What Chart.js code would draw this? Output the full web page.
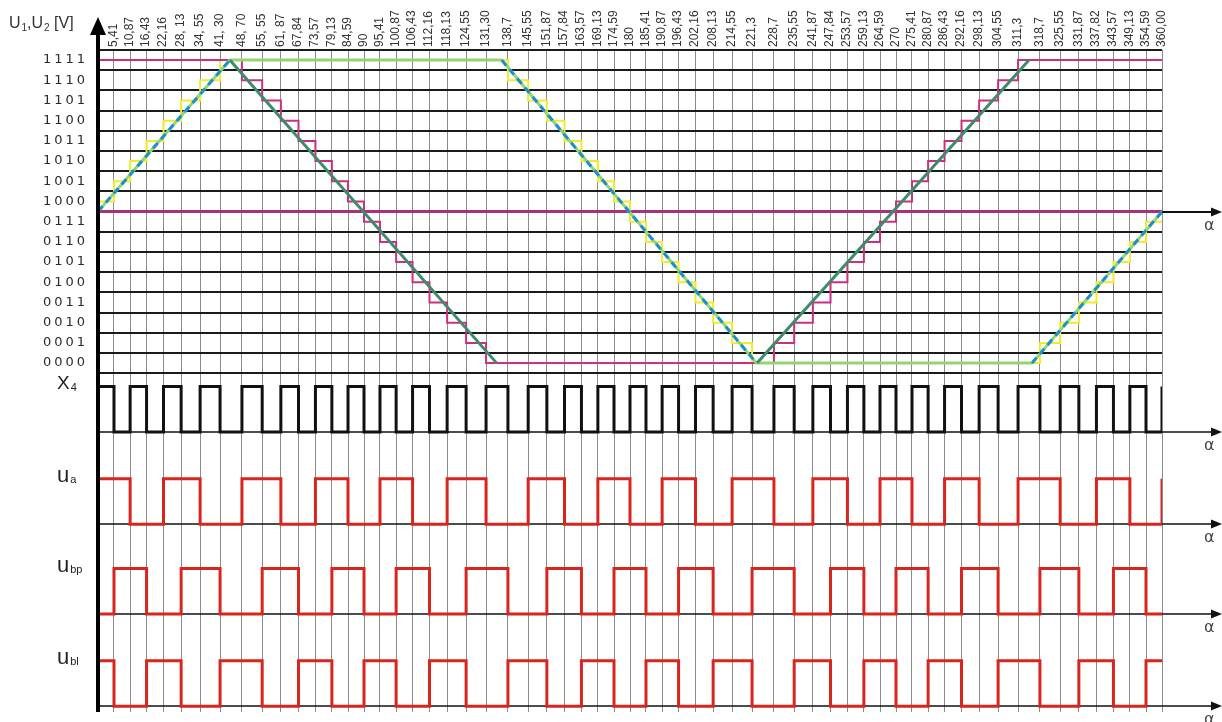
<!DOCTYPE html>
<html><head><meta charset="utf-8">
<script src="https://cdn.jsdelivr.net/npm/chart.js@4/dist/chart.umd.min.js"></script>
<style>html,body{margin:0;padding:0;background:#fff;}canvas{display:block;}</style>
</head><body>
<canvas id="c" width="1222" height="722"></canvas>
<script>
// ---- tick angles (degrees) and their printed labels ----
const tickAngles = [5.41,10.87,16.43,22.16,28.13,34.55,41.30,48.70,55.55,61.87,67.84,73.57,79.13,84.59,90,
  95.41,100.87,106.43,112.16,118.13,124.55,131.30,138.7,145.55,151.87,157.84,163.57,169.13,174.59,180,
  185.41,190.87,196.43,202.16,208.13,214.55,221.3,228.7,235.55,241.87,247.84,253.57,259.13,264.59,270,
  275.41,280.87,286.43,292.16,298.13,304.55,311.3,318.7,325.55,331.87,337.82,343.57,349.13,354.59,360.00];
const tickLabels = ["5,41","10,87","16,43","22,16","28, 13","34, 55","41, 30","48, 70","55, 55","61, 87","67,84","73,57","79,13","84,59","90",
  "95,41","100,87","106,43","112,16","118,13","124,55","131,30","138,7","145,55","151,87","157,84","163,57","169,13","174,59","180",
  "185,41","190,87","196,43","202,16","208,13","214,55","221,3","228,7","235,55","241,87","247,84","253,57","259,13","264,59","270",
  "275,41","280,87","286,43","292,16","298,13","304,55","311,3","318,7","325,55","331,87","337,82","343,57","349,13","354,59","360,00"];
const codeLabels = ["0000","0001","0010","0011","0100","0101","0110","0111","1000","1001","1010","1011","1100","1101","1110","1111"];

// ---- U1 (blue dashed / green) continuous line ----
const u1LineAngles = [0, 44.6, 136.6, 222.8, 316.0, 360];
const u1LineLevels = [7.5, 15, 15, 0, 0, 7.5];
// ---- U1 quantised staircase (yellow) ----
const u1StepAngles = [0,5.41,10.87,16.43,22.16,28.13,34.55,41.3,138.7,145.55,151.87,157.84,163.57,169.13,174.59,180,
  185.41,190.87,196.43,202.16,208.13,214.55,221.3,318.7,325.55,331.87,337.82,343.57,349.13,354.59,360];
const u1StepLevels = [8,9,10,11,12,13,14,15,14,13,12,11,10,9,8,7,6,5,4,3,2,1,0,1,2,3,4,5,6,7,7];
// ---- U2 (dark green) continuous line ----
const u2LineAngles = [0, 44.6, 134.9, 223.0, 315.0, 360];
const u2LineLevels = [15, 15, 0, 0, 15, 15];
// ---- U2 quantised staircase (magenta) ----
const u2StepAngles = [0,48.7,55.55,61.87,67.84,73.57,79.13,84.59,90,95.41,100.87,106.43,112.16,118.13,124.55,131.3,
  228.7,235.55,241.87,247.84,253.57,259.13,264.59,270,275.41,280.87,286.43,292.16,298.13,304.55,311.3,360];
const u2StepLevels = [15,14,13,12,11,10,9,8,7,6,5,4,3,2,1,0,1,2,3,4,5,6,7,8,9,10,11,12,13,14,15,15];
// ---- middle reference (magenta) ----
const midAngles = [0, 360];
const midLevels = [7.5, 7.5];

// ---- digital signals: level in each interval between successive ticks (from 0) ----
const x4Levels = [1,0,1,0,1,0,1,0,1,0,1,0,1,0,1,0,1,0,1,0,1,0,1,0,1,0,1,0,1,0,
                  1,0,1,0,1,0,1,0,1,0,1,0,1,0,1,0,1,0,1,0,1,0,1,0,1,0,1,0,1,0];
const uaLevels = [1,1,0,0,1,1,0,0,1,1,0,0,1,1,0,0,1,1,0,0,1,1,0,0,1,1,0,0,1,1,
                  0,0,1,1,0,0,1,1,0,0,1,1,0,0,1,1,0,0,1,1,0,0,1,1,0,0,1,1,0,0];
const ubpLevels = [0,1,1,0,0,1,1,0,0,1,1,0,0,1,1,0,0,1,1,0,0,1,1,0,0,1,1,0,0,1,
                   1,0,0,1,1,0,0,1,1,0,0,1,1,0,0,1,1,0,0,1,1,0,0,1,1,0,0,1,1,0];
const ublLevels = [1,0,0,1,1,0,0,1,1,0,0,1,1,0,0,1,1,0,0,1,1,0,0,1,1,0,0,1,1,0,
                   0,1,1,0,0,1,1,0,0,1,1,0,0,1,1,0,0,1,1,0,0,1,1,0,0,1,1,0,0,1];
const endLevels = {x4:1, ua:1, ubp:0, ubl:1};

// ---- layout (in y-scale units; one code band = 1 unit) ----
const Y_TOP = 15.5, Y_BOTTOM = -17.27;
const ROW_AMP = 2.25;
const ROWS = [
  {key:'x4', levels:x4Levels, base:-3.41, color:'#111111', name:['X','4']},
  {key:'ua', levels:uaLevels, base:-7.97, color:'#d8261f', name:['u','a']},
  {key:'ubp', levels:ubpLevels, base:-12.42, color:'#d8261f', name:['u','bp']},
  {key:'ubl', levels:ublLevels, base:-16.98, color:'#d8261f', name:['u','bl']}
];

const zip = (xs, ys) => xs.map((v, i) => ({x: v, y: ys[i]}));
const starts = [0].concat(tickAngles.slice(0, -1));
function rowData(row) {
  const pts = row.levels.map((l, i) => ({x: starts[i], y: row.base + l * ROW_AMP}));
  pts.push({x: 360, y: row.base + endLevels[row.key] * ROW_AMP});
  return pts;
}
const flatHidden = (col) => ({borderColor: c => (c.p0.parsed.y === c.p1.parsed.y ? 'rgba(0,0,0,0)' : col)});

const datasets = [
  {data: zip(u2LineAngles, u2LineLevels), borderColor:'#3e8b6a', borderWidth:3, segment: flatHidden('#3e8b6a')},
  {data: zip(u1LineAngles, u1LineLevels), borderColor:'#1a8fd8', borderWidth:3, borderDash:[7,5], segment: flatHidden('#1a8fd8')},
  {data: zip(u1LineAngles, u1LineLevels), borderColor:'#93d66f', borderWidth:3},
  {data: zip(u2StepAngles, u2StepLevels), borderColor:'#cc2f80', borderWidth:2, stepped:true},
  {data: zip(u1StepAngles, u1StepLevels), borderColor:'#f2ea2a', borderWidth:2, stepped:true},
  {data: zip(midAngles, midLevels), borderColor:'#a8307c', borderWidth:3}
].concat(ROWS.map(r => ({data: rowData(r), borderColor: r.color, borderWidth:3, stepped:true})));
datasets.forEach(d => { d.pointRadius = 0; d.fill = false; d.tension = 0; d.borderJoinStyle = 'miter'; });

function arrowRight(ctx, xTip, y) {
  ctx.beginPath(); ctx.moveTo(xTip, y); ctx.lineTo(xTip - 11, y - 4.5); ctx.lineTo(xTip - 11, y + 4.5); ctx.closePath(); ctx.fill();
}
function drawSub(ctx, x, y, main, sub, mainFont, subFont, subDy) {
  ctx.font = mainFont; ctx.fillText(main, x, y);
  const w = ctx.measureText(main).width;
  ctx.font = subFont; ctx.fillText(sub, x + w + 1, y + subDy);
  return x + w + 1 + ctx.measureText(sub).width;
}

const decor = {
  id: 'decor',
  beforeDatasetsDraw(chart) {
    const {ctx, scales: {x, y}} = chart;
    const x0 = x.getPixelForValue(0), x360 = x.getPixelForValue(360);
    ctx.save();
    ctx.fillStyle = '#111'; ctx.strokeStyle = '#111';
    const axes = [{v: 7.5, from: x360, w: 2}].concat(ROWS.map(r => ({v: r.base, from: x0, w: 1.5})));
    axes.forEach(a => {
      const yy = Math.round(y.getPixelForValue(a.v));
      ctx.lineWidth = a.w;
      ctx.beginPath(); ctx.moveTo(a.from, yy); ctx.lineTo(1212, yy); ctx.stroke();
      arrowRight(ctx, 1222, yy);
      ctx.font = '16px "DejaVu Sans"'; ctx.fillStyle = '#444'; ctx.textBaseline = 'middle'; ctx.textAlign = 'left';
      ctx.fillText('α', 1204, yy + 14);
      ctx.fillStyle = '#111';
    });
    ctx.restore();
  },
  afterDatasetsDraw(chart) {
    const {ctx, scales: {x, y}, chartArea: area} = chart;
    const x0 = x.getPixelForValue(0);
    ctx.save();
    ctx.strokeStyle = '#000'; ctx.fillStyle = '#000'; ctx.lineWidth = 4;
    ctx.beginPath(); ctx.moveTo(x0, 30); ctx.lineTo(x0, area.bottom); ctx.stroke();
    ctx.beginPath(); ctx.moveTo(x0, 17); ctx.lineTo(x0 - 8, 35); ctx.lineTo(x0 + 8, 35); ctx.closePath(); ctx.fill();
    // title of the vertical axis
    ctx.fillStyle = '#333'; ctx.textBaseline = 'middle'; ctx.textAlign = 'left';
    const mf = '16px "Liberation Sans"', sf = '10px "Liberation Sans"';
    let cx = drawSub(ctx, 9, 24, 'U', '1', mf, sf, 4);
    cx = drawSub(ctx, cx, 24, ',U', '2', mf, sf, 4);
    ctx.font = mf; ctx.fillText(' [V]', cx, 24);
    // row names
    ROWS.forEach(r => {
      const yy = y.getPixelForValue(r.base + ROW_AMP) - 3;
      ctx.fillStyle = '#222';
      drawSub(ctx, 57, yy, r.name[0], r.name[1], r.key === 'x4' ? '19px "Liberation Sans"' : '22px "Liberation Sans"', '11px "Liberation Sans"', 4);
    });
    ctx.restore();
  }
};

function widenLabels(scale) {
  if (scale._widened) return;
  scale._widened = true;
  const orig = scale.drawLabels.bind(scale);
  scale.drawLabels = function (area) {
    const ctx = this.ctx;
    ctx.save();
    if ('letterSpacing' in ctx) ctx.letterSpacing = '3px';
    orig(area);
    ctx.restore();
  };
}

new Chart(document.getElementById('c').getContext('2d'), {
  type: 'line',
  data: {datasets},
  options: {
    responsive: false, animation: false, events: [],
    layout: {padding: {left: 0, right: 60, top: 0, bottom: 10}},
    plugins: {legend: {display: false}, tooltip: {enabled: false}},
    scales: {
      x: {
        type: 'linear', position: 'top', min: 0, max: 360,
        afterBuildTicks: s => { s.ticks = tickAngles.map(v => ({value: v})); },
        afterFit: s => { s.height = 50; s.paddingLeft = 0; s.paddingRight = 0; },
        ticks: {autoSkip: false, minRotation: 90, maxRotation: 90, padding: 3, labelOffset: 14,
          font: {family: '"Liberation Sans"', size: 12}, color: '#333',
          callback: (v, i) => tickLabels[i]},
        grid: {color: '#8c8c8c', lineWidth: 1, drawTicks: false},
        border: {display: false}
      },
      y: {
        type: 'linear', min: Y_BOTTOM, max: Y_TOP,
        afterBuildTicks: s => { s.ticks = [-1].concat(codeLabels.map((c, i) => i)).map(k => ({value: k + 0.5})); },
        afterFit: s => { s.width = 98; s.paddingTop = 0; s.paddingBottom = 0; widenLabels(s); },
        ticks: {autoSkip: false, labelOffset: 10, padding: 10,
          font: {family: '"DejaVu Sans"', size: 13}, color: '#2a2a2a',
          callback: (v, i) => (i === 0 ? '' : codeLabels[i - 1])},
        grid: {color: '#1a1a1a', lineWidth: 2, drawTicks: false},
        border: {display: false}
      }
    }
  },
  plugins: [decor]
});
</script>
</body></html>
